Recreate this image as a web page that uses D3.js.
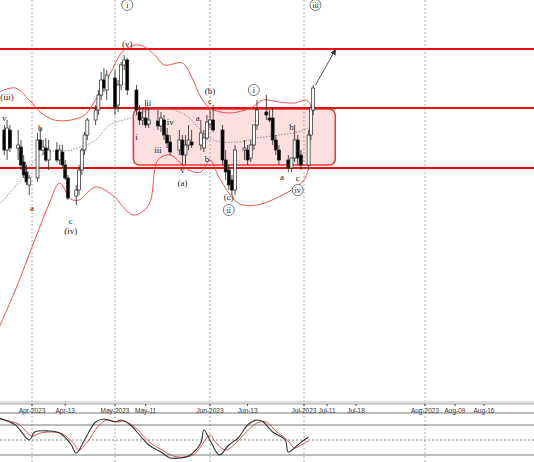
<!DOCTYPE html>
<html><head><meta charset="utf-8">
<script src="https://cdn.jsdelivr.net/npm/d3@7"></script>
<style>body{margin:0;background:#fff}svg{display:block}</style>
</head><body><div id="container"></div>
<script>
// candles: open, high, low, close (weekdays from Mar 22 2023)
const ohlc = [
 [270,275,245,250],[250,280,240,272],[270,275,248,252],[252,270,240,255],[253,260,230,235],
 [238,245,222,225],[228,235,215,218],[215,225,205,222],[222,267,218,260],[260,272,250,250],
 [250,260,245,253],[252,262,238,240],[240,260,230,250],[250,258,238,240],[240,255,235,250],
 [248,255,232,235],[235,240,220,222],[222,225,200,202],[204,215,195,210],[210,235,205,230],
 [230,252,225,250],[250,268,245,265],[265,282,260,280],[280,295,275,290],[290,310,285,305],
 [305,328,300,320],[320,332,308,312],[310,330,300,325],[322,330,285,292],[295,320,288,315],
 [315,338,310,335],[335,345,330,340],[340,342,305,310],[310,315,285,290],[288,295,275,280],
 [280,292,275,282],[282,300,272,275],[276,292,272,280],[279,290,270,274],[274,288,268,282],
 [280,285,260,265],[265,272,252,257],[258,265,245,248],[250,270,245,260],[260,265,235,245],
 [245,265,235,255],[255,275,250,260],[258,270,252,255],[255,280,250,267],[252,270,248,262],
 [262,285,260,278],[276,290,272,280],[280,295,268,270],[270,275,235,240],[240,250,220,228],
 [230,235,210,215],[220,225,205,210],[210,255,205,250],[250,260,240,252],[250,255,235,240],
 [242,260,238,255],[255,270,250,275],[275,300,270,290],[288,305,280,285],[282,290,278,280],
 [282,292,255,260],[260,265,245,250],[250,255,235,240],[240,245,228,232],[232,240,228,242],
 [242,275,238,260],[260,265,235,242],[245,250,230,235],[235,270,230,265],[265,295,260,292],
 [290,315,285,312]
];
const upperBand = [["2023-03-20",308],["2023-03-26",312],["2023-03-31",300],["2023-04-04",288],["2023-04-09",280],["2023-04-15",280],["2023-04-20",285],["2023-04-25",305],["2023-04-29",325],["2023-05-04",350],["2023-05-09",355],["2023-05-14",345],["2023-05-17",335],["2023-05-23",337],["2023-05-26",323],["2023-05-29",303],["2023-06-01",292],["2023-06-07",287],["2023-06-14",292],["2023-06-18",300],["2023-06-23",298],["2023-06-28",297],["2023-07-02",300],["2023-07-04",295]];
const lowerBand = [["2023-03-20",72],["2023-03-26",110],["2023-04-02",160],["2023-04-07",195],["2023-04-11",217],["2023-04-15",201],["2023-04-18",200],["2023-04-24",213],["2023-04-30",205],["2023-05-07",185],["2023-05-12",195],["2023-05-15",240],["2023-05-19",245],["2023-05-25",230],["2023-05-29",228],["2023-06-01",240],["2023-06-04",222],["2023-06-10",197],["2023-06-16",195],["2023-06-27",210],["2023-07-01",220],["2023-07-03",232]];
const midBand = [["2023-03-20",195],["2023-03-28",220],["2023-04-02",240],["2023-04-07",248],["2023-04-15",250],["2023-04-24",260],["2023-04-29",275],["2023-05-06",282],["2023-05-12",290],["2023-05-17",292],["2023-05-24",285],["2023-05-29",270],["2023-06-02",260],["2023-06-10",258],["2023-06-16",262],["2023-06-23",265],["2023-06-29",268],["2023-07-03",272]];
const oscMain = [["2023-03-20",94],["2023-03-26",80],["2023-03-31",50],["2023-04-02",66],["2023-04-07",68],["2023-04-11",64],["2023-04-15",42],["2023-04-17",24],["2023-04-20",50],["2023-04-24",86],["2023-04-27",92],["2023-05-01",86],["2023-05-03",90],["2023-05-06",80],["2023-05-09",60],["2023-05-12",40],["2023-05-16",26],["2023-05-19",14],["2023-05-22",14],["2023-05-25",18],["2023-05-29",44],["2023-05-30",70],["2023-06-01",50],["2023-06-04",20],["2023-06-07",40],["2023-06-10",54],["2023-06-13",80],["2023-06-16",90],["2023-06-18",86],["2023-06-21",66],["2023-06-25",50],["2023-06-26",26],["2023-06-29",40],["2023-07-01",50],["2023-07-03",56]];
const oscSignal = [["2023-03-20",92],["2023-03-27",82],["2023-04-01",58],["2023-04-04",64],["2023-04-08",66],["2023-04-12",62],["2023-04-16",44],["2023-04-18",30],["2023-04-21",46],["2023-04-25",78],["2023-04-28",90],["2023-05-02",86],["2023-05-04",88],["2023-05-07",78],["2023-05-10",60],["2023-05-13",42],["2023-05-17",28],["2023-05-20",18],["2023-05-24",16],["2023-05-27",22],["2023-05-30",46],["2023-06-01",60],["2023-06-03",44],["2023-06-06",30],["2023-06-09",42],["2023-06-12",62],["2023-06-16",84],["2023-06-19",86],["2023-06-22",68],["2023-06-26",48],["2023-06-28",34],["2023-06-30",40],["2023-07-03",48]];
const levels = [351, 292, 232];
const box = {start: "2023-05-07", end: "2023-07-13", top: 291, bottom: 235};
const tickLabels = [["2023-04-01","Apr-2023"],["2023-04-13","Apr-13"],["2023-05-01","May-2023"],["2023-05-11","May-11"],["2023-06-01","Jun-2023"],["2023-06-13","Jun-13"],["2023-07-01","Jul-2023"],["2023-07-11","Jul-11"],["2023-07-18","Jul-18"],["2023-08-01","Aug-2023"],["2023-08-09","Aug-09"],["2023-08-16","Aug-16"]];
const monthLines = ["2023-04-01","2023-05-01","2023-06-01","2023-07-01","2023-08-01"];
// wave labels: date, price, text, circled
const waves = [
 ["2023-03-23",303,"(iii)",0],["2023-03-22",282,"v",0],["2023-04-04",272,"b",0],["2023-04-01",192,"a",0],
 ["2023-04-15",179,"c",0],["2023-04-15",169,"(iv)",0],["2023-05-05",395,"i",1],["2023-05-05",356,"(v)",0],
 ["2023-05-12",297,"ii",0],["2023-05-08",263,"i",0],["2023-05-19",278,"iv",0],["2023-05-15",250,"iii",0],
 ["2023-05-23",230,"v",0],["2023-05-23",217,"(a)",0],["2023-05-28",282,"a",0],["2023-05-31",241,"b",0],
 ["2023-06-01",309,"(b)",0],["2023-06-01",299,"c",0],["2023-06-07",203,"(c)",0],["2023-06-07",190,"ii",1],
 ["2023-06-15",310,"i",1],["2023-06-24",223,"a",0],["2023-06-27",273,"b",0],["2023-06-29",222,"c",0],
 ["2023-06-29",210,"iv",1],["2023-07-06",395,"iii",1]
];
const arrow = [["2023-07-06",315],["2023-07-13",350]];

const W = 534, H = 462;
const parse = d3.timeParse("%Y-%m-%d");
const dayMs = 864e5;
const start = parse("2023-03-22");
const dates = [];
for (let d = new Date(start); dates.length < ohlc.length; d = new Date(+d + dayMs)) {
  if (d.getDay() !== 0 && d.getDay() !== 6) dates.push(d);
}

const x = d3.scaleTime()
  .domain(["2023-04-01","2023-05-01","2023-06-01","2023-07-01","2023-07-11","2023-07-18","2023-08-01","2023-08-09","2023-08-16"].map(parse))
  .range([32, 115, 210, 304, 327, 356, 425, 455, 484]);
const y = d3.scaleLinear().domain([0, 400]).range([400, 0]);
const yo = d3.scaleLinear().domain([20, 80]).range([455, 425]);

const svg = d3.select("#container").append("svg").attr("width", W).attr("height", H)
  .style("font-family", "Liberation Serif");

// month dashed lines
svg.selectAll(".vl").data(monthLines).enter().append("line")
  .attr("x1", d => x(parse(d))).attr("x2", d => x(parse(d)))
  .attr("y1", 0).attr("y2", H)
  .attr("stroke", "#999").attr("stroke-dasharray", "2,2").attr("stroke-width", 0.8);

// box
svg.append("rect")
  .attr("x", x(parse(box.start))).attr("y", y(box.top))
  .attr("width", x(parse(box.end)) - x(parse(box.start)))
  .attr("height", y(box.bottom) - y(box.top))
  .attr("rx", 6).attr("fill", "rgba(240,80,80,0.18)").attr("stroke", "#e33").attr("stroke-width", 1.5);

// levels
svg.selectAll(".lv").data(levels).enter().append("line")
  .attr("x1", 0).attr("x2", W).attr("y1", d => y(d)).attr("y2", d => y(d))
  .attr("stroke", "#e81010").attr("stroke-width", 2);

const bandLine = d3.line().x(d => x(parse(d[0]))).y(d => y(d[1])).curve(d3.curveCatmullRom);
[upperBand, lowerBand].forEach(b => svg.append("path").attr("d", bandLine(b))
  .attr("fill", "none").attr("stroke", "#e84040").attr("stroke-width", 0.9));
svg.append("path").attr("d", bandLine(midBand)).attr("fill", "none")
  .attr("stroke", "#777").attr("stroke-dasharray", "1.5,1.5").attr("stroke-width", 0.8);

// candles
const cw = 3;
const c = svg.selectAll(".c").data(ohlc).enter().append("g");
c.append("line")
  .attr("x1", (d, i) => x(dates[i])).attr("x2", (d, i) => x(dates[i]))
  .attr("y1", d => y(d[1])).attr("y2", d => y(d[2]))
  .attr("stroke", "#222").attr("stroke-width", 0.8);
c.append("rect")
  .attr("x", (d, i) => x(dates[i]) - cw / 2)
  .attr("y", d => y(Math.max(d[0], d[3])))
  .attr("width", cw)
  .attr("height", d => Math.max(1, Math.abs(y(d[0]) - y(d[3]))))
  .attr("fill", d => d[3] >= d[0] ? "#fff" : "#000")
  .attr("stroke", "#222").attr("stroke-width", 0.7);

// arrow
svg.append("defs").append("marker").attr("id", "ah").attr("viewBox", "0 0 10 10")
  .attr("refX", 8).attr("refY", 5).attr("markerWidth", 6).attr("markerHeight", 6).attr("orient", "auto")
  .append("path").attr("d", "M0,0L10,5L0,10z").attr("fill", "#333");
svg.append("line")
  .attr("x1", x(parse(arrow[0][0]))).attr("y1", y(arrow[0][1]))
  .attr("x2", x(parse(arrow[1][0]))).attr("y2", y(arrow[1][1]))
  .attr("stroke", "#555").attr("stroke-width", 1).attr("marker-end", "url(#ah)");

// wave labels
const wl = svg.selectAll(".w").data(waves).enter().append("g")
  .attr("transform", d => `translate(${x(parse(d[0]))},${y(d[1])})`);
wl.filter(d => d[3]).append("circle").attr("r", 5.5).attr("fill", "#fff")
  .attr("stroke", "#444").attr("stroke-width", 0.7);
wl.append("text").attr("text-anchor", "middle").attr("dy", "0.35em")
  .attr("font-size", d => d[3] ? 8 : 9).attr("fill", "#222").text(d => d[2]);

// axis strip
svg.append("rect").attr("x", 0).attr("y", 401).attr("width", W).attr("height", 3).attr("fill", "#ddd");
svg.append("line").attr("x1", 0).attr("x2", W).attr("y1", 404).attr("y2", 404).attr("stroke", "#888").attr("stroke-width", 0.6);
const ax = svg.append("g").attr("transform", "translate(0,404)");
ax.selectAll("line").data(tickLabels).enter().append("line")
  .attr("x1", d => x(parse(d[0]))).attr("x2", d => x(parse(d[0])))
  .attr("y1", 0).attr("y2", 2).attr("stroke", "#444");
ax.selectAll("text").data(tickLabels).enter().append("text")
  .attr("x", d => x(parse(d[0]))).attr("y", 8.5).attr("text-anchor", "middle")
  .attr("font-family", "Liberation Sans").attr("font-size", 6.5).attr("fill", "#333").text(d => d[1]);
svg.append("line").attr("x1", 0).attr("x2", W).attr("y1", 413).attr("y2", 413).attr("stroke", "#555").attr("stroke-width", 0.8);

// oscillator panel
[80, 20].forEach(v => svg.append("line").attr("x1", 0).attr("x2", W).attr("y1", yo(v)).attr("y2", yo(v))
  .attr("stroke", "#555").attr("stroke-width", 0.8));
svg.append("line").attr("x1", 0).attr("x2", W).attr("y1", yo(50)).attr("y2", yo(50))
  .attr("stroke", "#555").attr("stroke-dasharray", "2,2").attr("stroke-width", 0.7);
const oscLine = d3.line().x(d => x(parse(d[0]))).y(d => yo(d[1])).curve(d3.curveCatmullRom);
svg.append("path").attr("d", oscLine(oscSignal)).attr("fill", "none").attr("stroke", "#d04040").attr("stroke-width", 0.9);
svg.append("path").attr("d", oscLine(oscMain)).attr("fill", "none").attr("stroke", "#333").attr("stroke-width", 1.1);
</script>
</body></html>
